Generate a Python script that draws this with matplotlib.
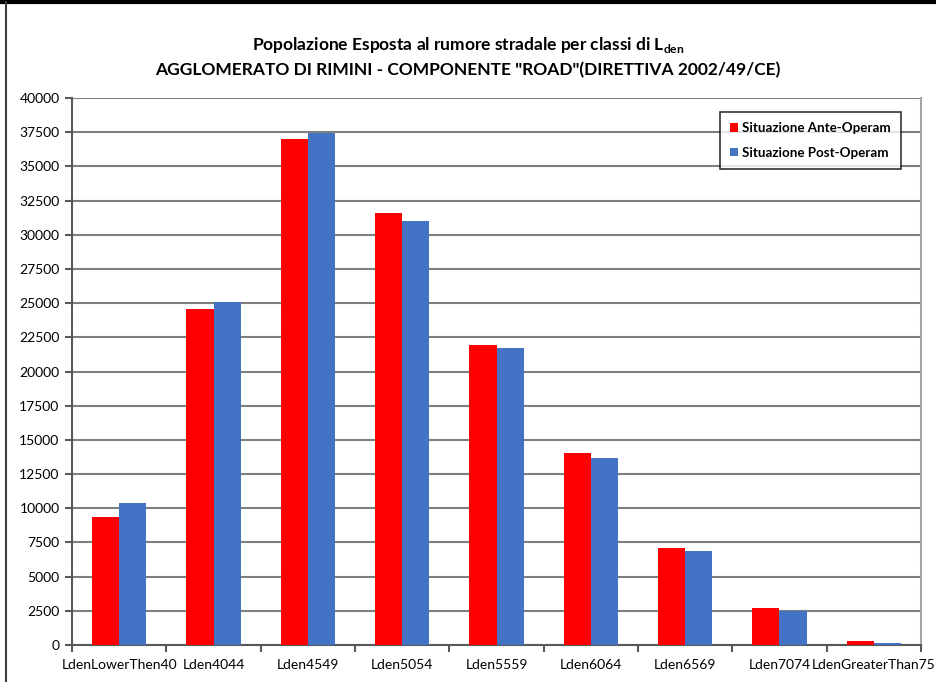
import numpy as np
import matplotlib
matplotlib.use('Agg')
import matplotlib.pyplot as plt
from matplotlib.lines import Line2D

# data
categories = ['LdenLowerThen40', 'Lden4044', 'Lden4549', 'Lden5054', 'Lden5559',
              'Lden6064', 'Lden6569', 'Lden7074', 'LdenGreaterThan75']
ante = [9360, 24570, 37000, 31590, 21940, 14040, 7090, 2730, 315]
post = [10380, 25080, 37440, 31000, 21720, 13680, 6870, 2510, 170]
series_names = ['Situazione Ante-Operam', 'Situazione Post-Operam']
yticks = np.arange(0, 40001, 2500)

plt.rcParams['font.family'] = ['Lato', 'DejaVu Sans']
plt.rcParams['mathtext.fontset'] = 'custom'
plt.rcParams['mathtext.rm'] = 'Lato:bold'
plt.rcParams['mathtext.bf'] = 'Lato:bold'

fig = plt.figure(figsize=(9.36, 6.82), dpi=100)
ax = fig.add_axes([72/936, 1-645/682, (921-72)/936, (645-98)/682])

x = np.arange(len(categories))
w = 0.287
ax.bar(x - w/2, ante, w, color='#ff0000', label=series_names[0], zorder=3)
ax.bar(x + w/2, post, w, color='#4472c4', label=series_names[1], zorder=3)

ax.set_xlim(-0.5, len(categories) - 0.5)
ax.set_ylim(0, 40000)
ax.set_yticks(yticks)
ax.set_yticklabels([str(v) for v in yticks], fontsize=10)
ax.yaxis.grid(True, color='#7f7f7f', linewidth=1.5, zorder=0)
ax.set_xticks(x)
ax.set_xticklabels(categories, fontsize=10)
ax.tick_params(axis='x', length=0, pad=10)
ax.set_xticks(np.arange(-0.5, len(categories)), minor=True)
ax.tick_params(axis='x', which='minor', length=5, width=1.5, color='#595959')
ax.tick_params(axis='y', length=5, width=1.5, color='#595959', pad=4)

ax.spines['top'].set_visible(False)
ax.spines['right'].set_color('#a6a6a6')
ax.spines['right'].set_linewidth(1.5)
for s in ['left', 'bottom']:
    ax.spines[s].set_color('#595959')
    ax.spines[s].set_linewidth(1.5)

leg = ax.legend(loc='upper right', bbox_to_anchor=((901-72)/(921-72), 1-(112-98)/547),
                borderaxespad=0, handlelength=0.6, handleheight=0.6, handletextpad=0.3,
                labelspacing=0.95, borderpad=0.75, fancybox=False, frameon=True,
                prop={'weight': 'bold', 'size': 9.6})
leg.get_frame().set_edgecolor('black')
leg.get_frame().set_linewidth(1.2)

fig.text(0.5, 1-45/682, r'Popolazione Esposta al rumore stradale per classi di L$_{\mathrm{den}}$',
         ha='center', va='center', fontsize=12.5, fontweight='bold')
fig.text(0.5, 1-70/682, 'AGGLOMERATO DI RIMINI - COMPONENTE "ROAD"(DIRETTIVA 2002/49/CE)',
         ha='center', va='center', fontsize=12.5, fontweight='bold')

# outer chart frame
fig.add_artist(Line2D([0, 1], [1-2/682, 1-2/682], color='black', linewidth=3, transform=fig.transFigure))
fig.add_artist(Line2D([6/936, 6/936], [0, 1-2/682], color='#404040', linewidth=1.5, transform=fig.transFigure))

fig.savefig('out.png', dpi=100)
